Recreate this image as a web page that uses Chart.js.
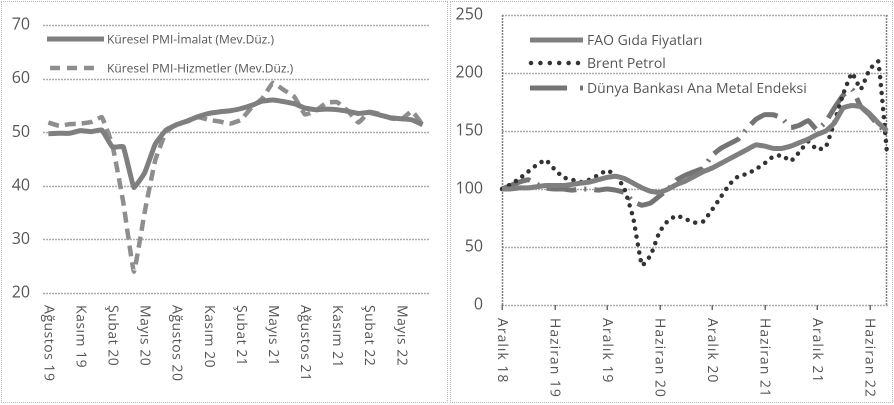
<!DOCTYPE html>
<html>
<head>
<meta charset="utf-8">
<script src="https://cdn.jsdelivr.net/npm/chart.js@4.4.0/dist/chart.umd.min.js"></script>
<style>
  html, body { margin: 0; padding: 0; background: #fff; }
  .wrap { position: relative; width: 894px; height: 405px; overflow: hidden; }
  canvas { position: absolute; top: 0; }
  #pmi { left: 0; }
  #prices { left: 450px; }
  .frame { position: absolute; top: 1px; height: 402px; box-sizing: border-box;
           border: 1px dotted #b8b8b8; pointer-events: none; }
</style>
</head>
<body>
<div class="wrap">
  <canvas id="pmi" style="width:447px;height:405px"></canvas>
  <canvas id="prices" style="width:444px;height:405px"></canvas>
  <div class="frame" style="left:1px;width:447px"></div>
  <div class="frame" style="left:450px;width:443px"></div>
</div>
<script>
// left panel: global PMI, monthly Aug 2019 - Jul 2022
const pmiMonths = [
  "Ağustos 19", "Eylül 19", "Ekim 19", "Kasım 19", "Aralık 19", "Ocak 20",
  "Şubat 20", "Mart 20", "Nisan 20", "Mayıs 20", "Haziran 20", "Temmuz 20",
  "Ağustos 20", "Eylül 20", "Ekim 20", "Kasım 20", "Aralık 20", "Ocak 21",
  "Şubat 21", "Mart 21", "Nisan 21", "Mayıs 21", "Haziran 21", "Temmuz 21",
  "Ağustos 21", "Eylül 21", "Ekim 21", "Kasım 21", "Aralık 21", "Ocak 22",
  "Şubat 22", "Mart 22", "Nisan 22", "Mayıs 22", "Haziran 22", "Temmuz 22"
];
const pmiManufacturing = [
  49.7, 49.8, 49.8, 50.3, 50.1, 50.4, 47.2, 47.3, 39.7, 42.4, 47.8, 50.4,
  51.4, 52.1, 52.9, 53.5, 53.8, 54.0, 54.4, 55.0, 55.8, 56.0, 55.7, 55.3,
  54.5, 54.2, 54.3, 54.2, 53.9, 53.5, 53.7, 53.2, 52.7, 52.5, 52.3, 51.4
];
const pmiServices = [
  51.8, 51.2, 51.5, 51.6, 51.9, 52.8, 47.5, 37.0, 24.0, 35.0, 44.8, 50.0,
  51.5, 52.0, 52.8, 52.3, 52.0, 51.6, 52.3, 54.6, 56.3, 59.2, 57.9, 56.6,
  53.3, 54.0, 55.5, 55.6, 54.0, 51.8, 53.8, 53.4, 52.6, 52.4, 53.9, 51.4
];
const pmiTicks = [20, 70, 10];

// right panel: commodity prices, Dec 2018 = 100, monthly Dec 2018 - Aug 2022
const priceMonths = [
  "Aralık 18", "Ocak 19", "Şubat 19", "Mart 19", "Nisan 19", "Mayıs 19",
  "Haziran 19", "Temmuz 19", "Ağustos 19", "Eylül 19", "Ekim 19", "Kasım 19",
  "Aralık 19", "Ocak 20", "Şubat 20", "Mart 20", "Nisan 20", "Mayıs 20",
  "Haziran 20", "Temmuz 20", "Ağustos 20", "Eylül 20", "Ekim 20", "Kasım 20",
  "Aralık 20", "Ocak 21", "Şubat 21", "Mart 21", "Nisan 21", "Mayıs 21",
  "Haziran 21", "Temmuz 21", "Ağustos 21", "Eylül 21", "Ekim 21", "Kasım 21",
  "Aralık 21", "Ocak 22", "Şubat 22", "Mart 22", "Nisan 22", "Mayıs 22",
  "Haziran 22", "Temmuz 22", "Ağustos 22"
];
const faoFood = [
  100, 100, 101, 101, 102, 103, 103, 103, 104, 105, 106, 108,
  110, 111, 109, 105, 101, 98, 97, 100, 104, 107, 111, 115,
  118, 122, 126, 130, 134, 138, 137, 135, 135, 137, 140, 143,
  147, 150, 157, 170, 172, 171, 165, 157, 150
];
const brentOil = [
  100, 104, 109, 115, 121, 125, 117, 110, 108, 106, 108, 112,
  116, 112, 100, 75, 34, 43, 63, 73, 77, 74, 71, 72,
  82, 93, 104, 111, 113, 117, 122, 128, 129, 124, 132, 141,
  134, 136, 158, 182, 200, 186, 203, 210, 131
];
const wbMetals = [
  100, 103, 106, 108, 104, 101, 100, 100, 99, 100, 100, 99,
  100, 99, 97, 89, 86, 88, 94, 100, 108, 112, 115, 118,
  129, 135, 139, 143, 152, 160, 164, 164, 161, 153, 155, 159,
  151, 158, 170, 181, 186, 171, 164, 155, 149
];
const priceTicks = [0, 250, 50];

const tickFont = { family: "Open Sans", size: 16 };
const textGray = "#555555";

// x labels are drawn turned clockwise, reading downwards
const downLabels = {
  id: "downLabels",
  afterDraw(chart, args, opts) {
    const { ctx } = chart;
    const xs = chart.scales.x;
    ctx.save();
    ctx.setLineDash([]);
    ctx.font = opts.font;
    ctx.fillStyle = textGray;
    ctx.letterSpacing = opts.spacing;
    ctx.textBaseline = "middle";
    ctx.textAlign = "left";
    chart.data.labels.forEach((lab, i) => {
      if (i % opts.every) return;
      const px = xs.getPixelForValue(i);
      if (opts.tick) {
        ctx.fillStyle = "#6e6e6e";
        ctx.fillRect(Math.round(px) - 0.5, xs.top, 1.5, 5);
        ctx.fillStyle = textGray;
      }
      ctx.save();
      ctx.translate(px, xs.top + opts.gap);
      ctx.rotate(Math.PI / 2);
      ctx.fillText(lab, 0, 0);
      ctx.restore();
    });
    ctx.restore();
  }
};

const insideLegend = {
  id: "insideLegend",
  afterDatasetsDraw(chart, args, opts) {
    const { ctx } = chart;
    ctx.save();
    ctx.font = opts.font;
    ctx.textBaseline = "middle";
    opts.items.forEach((it, k) => {
      const ds = chart.data.datasets[k];
      ctx.save();
      ctx.strokeStyle = ds.borderColor;
      ctx.lineWidth = ds.borderWidth;
      ctx.lineCap = ds.borderCapStyle || "butt";
      ctx.setLineDash(it.dash || ds.borderDash || []);
      ctx.beginPath();
      ctx.moveTo(it.x0, it.y);
      ctx.lineTo(it.x1, it.y);
      ctx.stroke();
      ctx.restore();
      ctx.fillStyle = textGray;
      ctx.fillText(ds.label, it.tx, it.y + 1);
    });
    ctx.restore();
  }
};

// dotted horizontal grid at each y tick, plus an optional dotted box round the plot
const dottedGrid = {
  id: "dottedGrid",
  beforeDatasetsDraw(chart, args, opts) {
    const { ctx, chartArea: a } = chart;
    const ys = chart.scales.y;
    const l = Math.round(a.left), r = Math.round(a.right);
    ctx.save();
    ctx.fillStyle = "#ababab";
    ys.ticks.forEach(t => {
      const py = Math.round(ys.getPixelForValue(t.value));
      for (let x = l; x < r; x += 3) ctx.fillRect(x, py - 0.25, 2, 1.5);
    });
    if (opts.box) {
      ctx.fillStyle = "#7c7c7c";
      const top = Math.round(a.top), bot = Math.round(a.bottom);
      for (let y = top; y < bot; y += 3) {
        ctx.fillRect(l - 0.25, y, 1.5, 2);
        ctx.fillRect(r - 1.25, y, 1.5, 2);
      }
    }
    ctx.restore();
  }
};

function yAxis(ticks, width, padding) {
  return {
    min: ticks[0],
    max: ticks[1],
    ticks: { stepSize: ticks[2], padding: padding, color: textGray, font: tickFont },
    grid: { display: false, drawTicks: false },
    border: { display: false },
    afterFit(scale) {
      scale.width = width;
      // the label padding would otherwise push the plot top down
      scale.paddingTop = 0;
      scale.paddingBottom = 0;
    }
  };
}

function xAxis(offset, height) {
  return {
    type: "category",
    offset: offset,
    ticks: { display: false },
    grid: { display: false },
    border: { display: false },
    afterFit(scale) { scale.height = height; }
  };
}

new Chart(document.getElementById("pmi"), {
  type: "line",
  data: {
    labels: pmiMonths,
    datasets: [
      {
        label: "Küresel PMI-İmalat (Mev.Düz.)",
        data: pmiManufacturing,
        borderColor: "#7f7f7f",
        borderWidth: 5,
        pointRadius: 0,
        tension: 0.1
      },
      {
        label: "Küresel PMI-Hizmetler (Mev.Düz.)",
        data: pmiServices,
        borderColor: "#8e8e8e",
        borderWidth: 4.5,
        borderDash: [11, 6],
        pointRadius: 0,
        tension: 0.1
      }
    ]
  },
  options: {
    responsive: false,
    animation: false,
    devicePixelRatio: 2,
    layout: { padding: { top: 25, right: 19, left: 0, bottom: 0 } },
    scales: { x: xAxis(true, 112), y: yAxis(pmiTicks, 43, 13) },
    plugins: {
      legend: { display: false },
      tooltip: { enabled: false },
      downLabels: { font: '14px "Open Sans"', spacing: "0.5px", every: 3, gap: 12, tick: false },
      insideLegend: {
        font: '12px "Open Sans"',
        items: [
          { x0: 47, x1: 104, y: 39, tx: 107 },
          { x0: 50, x1: 98, y: 68, tx: 107, dash: [10, 7] }
        ]
      },
      dottedGrid: { box: false }
    }
  },
  plugins: [downLabels, insideLegend, dottedGrid]
});

new Chart(document.getElementById("prices"), {
  type: "line",
  data: {
    labels: priceMonths,
    datasets: [
      {
        label: "FAO Gıda Fiyatları",
        data: faoFood,
        borderColor: "#7f7f7f",
        borderWidth: 5,
        pointRadius: 0,
        tension: 0.1
      },
      {
        label: "Brent Petrol",
        data: brentOil,
        borderColor: "#333333",
        borderWidth: 4.5,
        borderDash: [0, 8],
        borderCapStyle: "round",
        pointRadius: 0,
        tension: 0.1
      },
      {
        label: "Dünya Bankası Ana Metal Endeksi",
        data: wbMetals,
        borderColor: "#747474",
        borderWidth: 5,
        borderDash: [30, 8, 2, 8],
        pointRadius: 0,
        tension: 0.1
      }
    ]
  },
  options: {
    responsive: false,
    animation: false,
    devicePixelRatio: 2,
    layout: { padding: { top: 15, right: 7, left: 0, bottom: 0 } },
    scales: { x: xAxis(false, 100), y: yAxis(priceTicks, 52, 19) },
    plugins: {
      legend: { display: false },
      tooltip: { enabled: false },
      downLabels: { font: '14px "Open Sans"', spacing: "1px", every: 6, gap: 13, tick: true },
      insideLegend: {
        font: '14px "Open Sans"',
        items: [
          { x0: 80, x1: 133, y: 40, tx: 137 },
          { x0: 81, x1: 130, y: 63, tx: 137, dash: [0, 9.4] },
          { x0: 80, x1: 134, y: 88, tx: 137, dash: [37, 13, 3, 20] }
        ]
      },
      dottedGrid: { box: true }
    }
  },
  plugins: [downLabels, insideLegend, dottedGrid]
});
</script>
</body>
</html>
